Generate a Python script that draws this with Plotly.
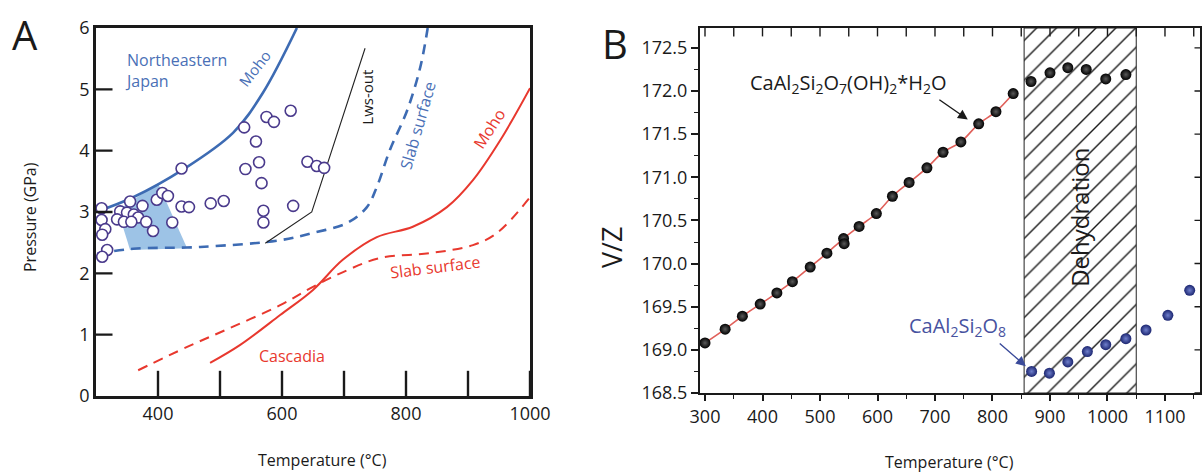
import plotly.graph_objects as go

W, H = 1203, 473
FONT = "Open Sans"

# ---------------- Panel A data ----------------
jp_moho_T = [300, 360, 440, 521, 569, 624]
jp_moho_P = [3.0, 3.24, 3.69, 4.29, 4.94, 6.0]
jp_slab_T = [302, 360, 468, 597, 650, 705, 737, 753, 774, 802, 823, 835]
jp_slab_P = [2.32, 2.40, 2.43, 2.54, 2.66, 2.82, 3.08, 3.41, 4.01, 4.66, 5.36, 6.0]
lws_out_T = [573, 648, 734]
lws_out_P = [2.49, 3.0, 5.67]
cas_moho_T = [484, 532, 597, 650, 698, 753, 811, 866, 908, 952, 1000]
cas_moho_P = [0.54, 0.83, 1.32, 1.73, 2.22, 2.59, 2.76, 3.08, 3.52, 4.17, 5.02]
cas_slab_T = [368, 447, 521, 597, 650, 705, 758, 839, 908, 947, 1000]
cas_slab_P = [0.42, 0.80, 1.13, 1.48, 1.78, 2.05, 2.25, 2.33, 2.46, 2.66, 3.24]
shade_T = [335, 400, 447, 355]
shade_P = [3.03, 3.47, 2.41, 2.38]
sample_T = [309, 309, 315, 310, 318, 310, 339, 350, 361, 368, 334, 345, 357, 355,
            375, 398, 407, 416, 438, 438, 450, 423, 381, 392, 485, 506, 539, 575,
            587, 614, 558, 563, 541, 567, 570, 570, 618, 641, 656, 668]
sample_P = [3.06, 2.87, 2.72, 2.63, 2.38, 2.27, 3.01, 2.99, 2.96, 2.91, 2.88, 2.84,
            2.84, 3.17, 3.10, 3.20, 3.31, 3.26, 3.71, 3.09, 3.08, 2.83, 2.84, 2.69,
            3.14, 3.18, 4.38, 4.55, 4.47, 4.65, 4.15, 3.81, 3.70, 3.47, 3.02, 2.83,
            3.10, 3.82, 3.75, 3.72]
a_xrange = [300, 1000]
a_yrange = [0, 6]
a_xticks = [400, 500, 600, 700, 800, 900, 1000]
a_xlabels = ["400", "", "600", "", "800", "", "1000"]
a_yticks = [0, 1, 2, 3, 4, 5, 6]

# ---------------- Panel B data ----------------
lws_vz_T = [300, 335, 365, 396, 425, 452, 483, 512, 541, 542, 568, 598, 626, 655,
            686, 714, 745, 776, 806, 836, 867, 900, 931, 963, 997, 1032]
lws_vz_V = [169.08, 169.24, 169.39, 169.53, 169.66, 169.79, 169.96, 170.12, 170.29,
            170.23, 170.43, 170.58, 170.78, 170.94, 171.11, 171.29, 171.41, 171.62,
            171.76, 171.97, 172.11, 172.21, 172.27, 172.25, 172.14, 172.19]
fit_end_T = 836
an_vz_T = [868, 899, 931, 965, 997, 1032, 1067, 1105, 1143]
an_vz_V = [168.75, 168.73, 168.86, 168.98, 169.06, 169.13, 169.23, 169.40, 169.69]
dehyd_T = [855, 1050]
b_xrange = [291.3, 1160.9]
b_yrange = [168.5, 172.73]
b_xticks_minor = [300, 350, 400, 450, 500, 550, 600, 650, 700, 750, 800, 850, 900,
                  950, 1000, 1050, 1100, 1150]
b_yticks_major = [168.5, 169.0, 169.5, 170.0, 170.5, 171.0, 171.5, 172.0, 172.5]

BLUE = "#3d6bb3"
BLUE_TXT = "#4a70b6"
RED = "#e8382e"
CIRC = "#4a3a8c"
INK = "#1a1a1a"

A_X = [96 / W, 530 / W]
A_Y = [77 / H, 445 / H]
B_X = [700 / W, 1200 / W]
B_Y = [80 / H, 445 / H]


def px_to_data(px, dom, rng, size):
    """length in data units of `px` screen pixels along an axis"""
    return px * (rng[1] - rng[0]) / ((dom[1] - dom[0]) * size)


fig = go.Figure()

# ---- Panel A traces ----
fig.add_trace(go.Scatter(x=shade_T + shade_T[:1], y=shade_P + shade_P[:1], fill="toself",
                         fillcolor="#9dc3e6", line=dict(width=0), mode="lines",
                         xaxis="x", yaxis="y", hoverinfo="skip"))
fig.add_trace(go.Scatter(x=jp_moho_T, y=jp_moho_P, mode="lines",
                         line=dict(color=BLUE, width=2.6, shape="spline"), xaxis="x", yaxis="y"))
fig.add_trace(go.Scatter(x=jp_slab_T, y=jp_slab_P, mode="lines",
                         line=dict(color=BLUE, width=2.6, dash="10px,7px", shape="spline"),
                         xaxis="x", yaxis="y"))
fig.add_trace(go.Scatter(x=lws_out_T, y=lws_out_P, mode="lines",
                         line=dict(color="#222222", width=1.1), xaxis="x", yaxis="y"))
fig.add_trace(go.Scatter(x=cas_moho_T, y=cas_moho_P, mode="lines",
                         line=dict(color=RED, width=2, shape="spline"), xaxis="x", yaxis="y"))
fig.add_trace(go.Scatter(x=cas_slab_T, y=cas_slab_P, mode="lines",
                         line=dict(color=RED, width=2, dash="10px,7px", shape="spline"),
                         xaxis="x", yaxis="y"))
fig.add_trace(go.Scatter(x=sample_T, y=sample_P, mode="markers",
                         marker=dict(size=11, color="white", line=dict(color=CIRC, width=1.6)),
                         xaxis="x", yaxis="y"))
# inward ticks of panel A bottom: line markers centred on the frame (clipped)
fig.add_trace(go.Scatter(x=a_xticks, y=[a_yrange[0]] * len(a_xticks), mode="markers",
                         marker=dict(symbol="line-ns", size=36, color=INK,
                                     line=dict(color=INK, width=2.4)),
                         cliponaxis=True, xaxis="x", yaxis="y", hoverinfo="skip"))

# ---- Panel B traces ----
fig.add_trace(go.Scatter(x=[dehyd_T[0], dehyd_T[1], dehyd_T[1], dehyd_T[0], dehyd_T[0]],
                         y=[b_yrange[0], b_yrange[0], b_yrange[1], b_yrange[1], b_yrange[0]],
                         fill="toself", fillcolor="white", mode="lines",
                         fillpattern=dict(shape="/", fgcolor="#1a1a1a", bgcolor="white",
                                          size=14, solidity=0.1),
                         line=dict(color="#222222", width=1), xaxis="x2", yaxis="y2",
                         hoverinfo="skip"))
fit_T, fit_V, seen = [], [], set()
for t, v in zip(lws_vz_T, lws_vz_V):
    if t <= fit_end_T and round(t, -1) not in seen:
        seen.add(round(t, -1))
        fit_T.append(t)
        fit_V.append(v)
fig.add_trace(go.Scatter(x=fit_T, y=fit_V, mode="lines",
                         line=dict(color="#e0605a", width=1.6, shape="spline"),
                         xaxis="x2", yaxis="y2"))
fig.add_trace(go.Scatter(x=lws_vz_T, y=lws_vz_V, mode="markers",
                         marker=dict(size=11, color="#000000", line=dict(width=0),
                                     gradient=dict(type="radial", color="#5a5a5a")),
                         xaxis="x2", yaxis="y2"))
fig.add_trace(go.Scatter(x=an_vz_T, y=an_vz_V, mode="markers",
                         marker=dict(size=11, color="#1b2570", line=dict(width=0),
                                     gradient=dict(type="radial", color="#6f7fcc")),
                         xaxis="x2", yaxis="y2"))
fig.add_trace(go.Scatter(x=b_xticks_minor, y=[b_yrange[1]] * len(b_xticks_minor),
                         mode="markers",
                         marker=dict(symbol="line-ns", size=12, color=INK,
                                     line=dict(color=INK, width=1.4)),
                         cliponaxis=True, xaxis="x2", yaxis="y2", hoverinfo="skip"))

axis_font = dict(family=FONT, size=18, color=INK)
common = dict(showgrid=False, zeroline=False, automargin=False, tickcolor=INK,
              linecolor=INK)
fig.update_layout(
    template="none",
    width=W, height=H, margin=dict(l=0, r=0, t=0, b=0, pad=0, autoexpand=False),
    paper_bgcolor="white", plot_bgcolor="white", showlegend=False,
    font=dict(family=FONT, color=INK),
    xaxis=dict(domain=A_X, range=a_xrange, tickvals=a_xticks,
               ticktext=a_xlabels, ticks="", showline=True, linewidth=2.6,
               mirror=True, tickfont=axis_font, anchor="y", **common),
    yaxis=dict(domain=A_Y, range=a_yrange, tickvals=a_yticks, ticks="",
               showline=True, linewidth=2.6, mirror=True, tickfont=axis_font,
               anchor="x", **common),
    xaxis2=dict(domain=B_X, range=b_xrange, tick0=300, dtick=100,
                ticks="outside", ticklen=6, tickwidth=1.6,
                minor=dict(dtick=50, ticklen=4, ticks="outside", tickwidth=1.3, tickcolor=INK),
                showline=True, linewidth=2.2, mirror=True, tickfont=axis_font,
                anchor="y2", **common),
    yaxis2=dict(domain=B_Y, range=b_yrange, tick0=168.5, dtick=0.5,
                tickformat=".1f", ticks="outside", ticklen=7, tickwidth=1.6,
                minor=dict(dtick=0.25, ticklen=4, ticks="outside", tickwidth=1.3, tickcolor=INK),
                showline=True, linewidth=2.2, mirror=True, tickfont=axis_font,
                anchor="x2", **common),
)

ann = []
def txt(x, y, text, xref="paper", yref="paper", size=16, color=INK, angle=0,
        xanchor="center", yanchor="middle", align="center"):
    ann.append(dict(x=x, y=y, xref=xref, yref=yref, text=text, showarrow=False,
                    font=dict(family=FONT, size=size, color=color), textangle=angle,
                    xanchor=xanchor, yanchor=yanchor, align=align))


def tick_arrow(x0, y0, x1, y1, xr, yr, width):
    """a tick mark drawn as a head-less annotation arrow (drawn above the plot)"""
    ann.append(dict(x=x0, y=y0, ax=x1, ay=y1, xref=xr, yref=yr, axref=xr, ayref=yr,
                    text="", showarrow=True, arrowhead=0, arrowwidth=width,
                    arrowcolor=INK, standoff=0, startstandoff=0))


# left inward ticks of panel A
a_len = px_to_data(18, A_X, a_xrange, W)
for t in a_yticks[1:-1]:
    tick_arrow(a_xrange[0], t, a_xrange[0] + a_len, t, "x", "y", 2.4)
# right inward ticks of panel B
b_r_len = px_to_data(7, B_X, b_xrange, W)
for t in b_yticks_major:
    tick_arrow(b_xrange[1], t, b_xrange[1] - b_r_len, t, "x2", "y2", 1.4)

# panel letters & axis titles (pixel positions -> paper)
txt(25 / W, 1 - 34 / H, "A", size=40)
txt(615 / W, 1 - 44 / H, "B", size=40)
txt(30 / W, 1 - 217 / H, "Pressure (GPa)", size=16, angle=-90)
txt(322 / W, 1 - 460 / H, "Temperature (°C)", size=16)
txt(949 / W, 1 - 462 / H, "Temperature (°C)", size=16)
txt(611 / W, 1 - 248 / H, "V/Z", size=27, angle=-90)

# panel A labels (data coords)
txt(343, 5.30, "Northeastern<br>Japan", "x", "y", size=16, color=BLUE_TXT,
    xanchor="left", align="left")
txt(556, 5.35, "Moho", "x", "y", size=15, color=BLUE_TXT, angle=-52)
txt(737, 4.88, "Lws-out", "x", "y", size=15, color=INK, angle=-90)
txt(819, 4.42, "Slab surface", "x", "y", size=16, color=BLUE_TXT, angle=-74)
txt(934, 4.35, "Moho", "x", "y", size=16, color=RED, angle=-57)
txt(847, 2.10, "Slab surface", "x", "y", size=16, color=RED, angle=-7)
txt(616, 0.65, "Cascadia", "x", "y", size=16, color=RED)

# panel B labels
txt(549, 172.09, "CaAl<sub>2</sub>Si<sub>2</sub>O<sub>7</sub>(OH)<sub>2</sub>*H<sub>2</sub>O",
    "x2", "y2", size=20, color=INK)
txt(740, 169.27, "CaAl<sub>2</sub>Si<sub>2</sub>O<sub>8</sub>", "x2", "y2", size=20,
    color="#4752a0")
txt(952, 170.54, "Dehydration", "x2", "y2", size=24, color=INK, angle=-90)

ann.append(dict(x=757, y=171.67, ax=705, ay=171.91, xref="x2", yref="y2",
                axref="x2", ayref="y2", text="", showarrow=True, arrowhead=2,
                arrowsize=1.4, arrowwidth=1.4, arrowcolor=INK))
ann.append(dict(x=858, y=168.81, ax=810, ay=169.09, xref="x2", yref="y2",
                axref="x2", ayref="y2", text="", showarrow=True, arrowhead=2,
                arrowsize=1.4, arrowwidth=1.4, arrowcolor="#3a4a9a"))

fig.update_layout(annotations=ann)
fig.write_html("out.html", config={"displayModeBar": False},
               post_script="document.body.style.margin='0px';document.body.style.padding='0px';")
